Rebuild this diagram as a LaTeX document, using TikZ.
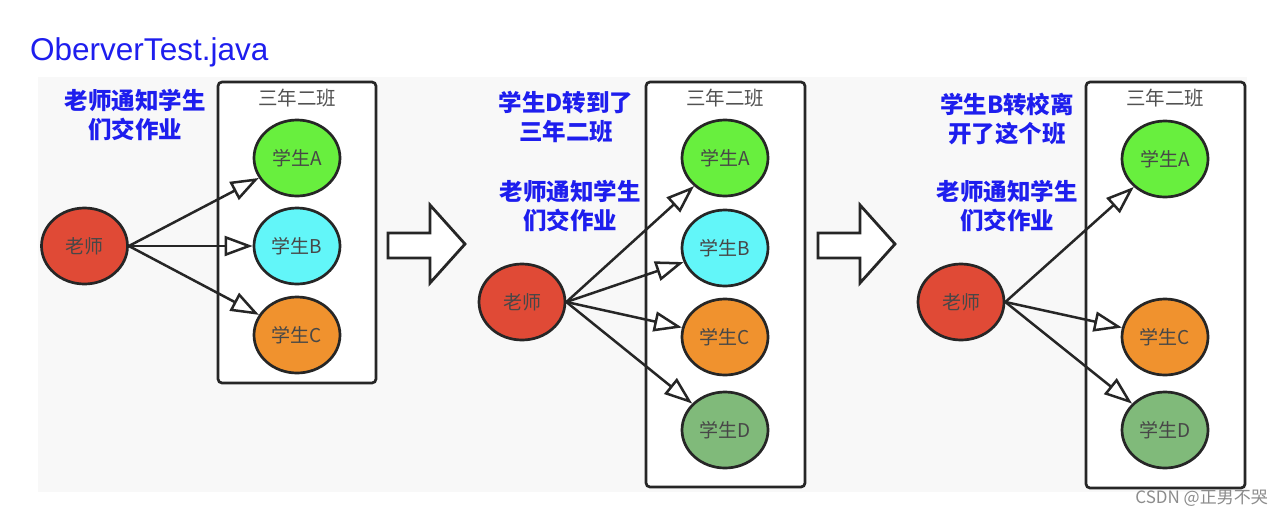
\documentclass[tikz,border=0pt]{standalone}
\usepackage{fontspec}
\setmainfont{Liberation Sans}
\newfontfamily\cjk{Noto Sans CJK SC}
\usetikzlibrary{arrows.meta,shapes.geometric}
\definecolor{bg}{HTML}{F8F8F8}
\definecolor{blueT}{RGB}{30,30,238}
\definecolor{tred}{HTML}{E04A36}
\definecolor{sA}{HTML}{68EF3E}
\definecolor{sB}{HTML}{62F6F9}
\definecolor{sC}{HTML}{F0922E}
\definecolor{sD}{HTML}{80BA7A}
\definecolor{ink}{HTML}{262626}
\begin{document}
\begin{tikzpicture}[x=1pt,y=-1pt,
  stu/.style={ellipse,draw=ink,line width=2.7pt,minimum width=86pt,minimum height=76pt,inner sep=0pt,
    font=\cjk\fontsize{19}{22}\selectfont,text=ink!85},
  classbox/.style={draw=ink,line width=2.7pt,fill=white,rounded corners=4pt},
  boxlabel/.style={font=\cjk\fontsize{19.5}{22}\selectfont,text=ink!80},
  note/.style={font=\cjk\bfseries\fontsize{23.5}{29}\selectfont,text=blueT,align=center},
  notify/.style={draw=ink,line width=2.5pt,-{Triangle[length=28pt,width=20pt,fill=white]}},
  bigarrow/.style={draw=ink,line width=2.8pt,fill=white,line join=miter}]
\useasboundingbox (0,0) rectangle (1284,517);
\fill[white] (0,0) rectangle (1284,517);
\fill[bg] (38,77) rectangle (1247,492);
\node[anchor=base west,font=\fontsize{31.5}{36}\selectfont,text=blueT,inner sep=0pt] (title) at (30,60) {OberverTest.java};
% panel 1
\draw[classbox] (218,82) rectangle (376,383);
\node[boxlabel] (bl1) at (297,98) {三年二班};
\node[stu,fill=tred] (t1) at (84.5,246) {老师};
\node[stu,fill=sA] (a1) at (297,158) {学生A};
\node[stu,fill=sB] (b1) at (297,246) {学生B};
\node[stu,fill=sC] (c1) at (297,335) {学生C};
\node[note] (n1) at (135,115) {老师通知学生\\们交作业};
\draw[notify] (t1.east) -- (a1);
\draw[notify] (t1.east) -- (b1);
\draw[notify] (t1.east) -- (c1);
% big arrow 1
\draw[bigarrow] (388,233) -- (430,233) -- (430,205) -- (465,244) -- (430,283) -- (430,258) -- (388,258) -- cycle;
% panel 2
\draw[classbox] (646,82) rectangle (805,487);
\node[boxlabel] (bl2) at (725,98) {三年二班};
\node[stu,fill=tred] (t2) at (522,302) {老师};
\node[stu,fill=sA] (a2) at (725,158) {学生A};
\node[stu,fill=sB] (b2) at (725,248) {学生B};
\node[stu,fill=sC] (c2) at (725,337) {学生C};
\node[stu,fill=sD] (d2) at (725,430) {学生D};
\node[note] (n2a) at (566,117) {学生D转到了\\三年二班};
\node[note] (n2b) at (570,206) {老师通知学生\\们交作业};
\draw[notify] (t2.east) -- (a2);
\draw[notify] (t2.east) -- (b2);
\draw[notify] (t2.east) -- (c2);
\draw[notify] (t2.east) -- (d2);
% big arrow 2
\draw[bigarrow] (818,233) -- (860,233) -- (860,205) -- (895,244) -- (860,283) -- (860,258) -- (818,258) -- cycle;
% panel 3
\draw[classbox] (1086,82) rectangle (1245,488);
\node[boxlabel] (bl3) at (1165,98) {三年二班};
\node[stu,fill=tred] (t3) at (961,302) {老师};
\node[stu,fill=sA] (a3) at (1165,159) {学生A};
\node[stu,fill=sC] (c3) at (1165,337) {学生C};
\node[stu,fill=sD] (d3) at (1165,430) {学生D};
\node[note] (n3a) at (1007,119) {学生B转校离\\开了这个班};
\node[note] (n3b) at (1007,206) {老师通知学生\\们交作业};
\draw[notify] (t3.east) -- (a3);
\draw[notify] (t3.east) -- (c3);
\draw[notify] (t3.east) -- (d3);
% watermark
\node[font=\cjk\fontsize{17}{19}\selectfont,text=black!45,anchor=east,inner sep=0pt] (wm) at (1268,498) {CSDN @正男不哭};
\end{tikzpicture}
\end{document}
